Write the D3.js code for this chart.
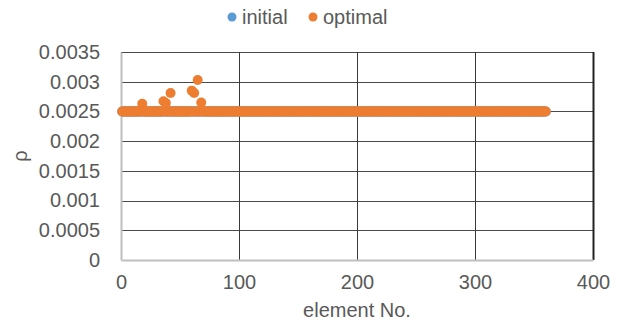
<!DOCTYPE html>
<html>
<head>
<meta charset="utf-8">
<script src="https://cdn.jsdelivr.net/npm/d3@7"></script>
<style>
  body { margin: 0; background: #fff; }
  text { font-family: "Liberation Sans", Arial, sans-serif; fill: #595959; }
</style>
</head>
<body>
<div id="viz"></div>
<script>
// element numbers 1..360 along the x axis
const elements = d3.range(1, 361);

// initial density of every element
const initial = [
  0.0025, 0.0025, 0.0025, 0.0025, 0.0025, 0.0025, 0.0025, 0.0025, 0.0025, 0.0025, 0.0025, 0.0025, 0.0025, 0.0025, 0.0025, 0.0025, 0.0025, 0.0025, 0.0025, 0.0025,
  0.0025, 0.0025, 0.0025, 0.0025, 0.0025, 0.0025, 0.0025, 0.0025, 0.0025, 0.0025, 0.0025, 0.0025, 0.0025, 0.0025, 0.0025, 0.0025, 0.0025, 0.0025, 0.0025, 0.0025,
  0.0025, 0.0025, 0.0025, 0.0025, 0.0025, 0.0025, 0.0025, 0.0025, 0.0025, 0.0025, 0.0025, 0.0025, 0.0025, 0.0025, 0.0025, 0.0025, 0.0025, 0.0025, 0.0025, 0.0025,
  0.0025, 0.0025, 0.0025, 0.0025, 0.0025, 0.0025, 0.0025, 0.0025, 0.0025, 0.0025, 0.0025, 0.0025, 0.0025, 0.0025, 0.0025, 0.0025, 0.0025, 0.0025, 0.0025, 0.0025,
  0.0025, 0.0025, 0.0025, 0.0025, 0.0025, 0.0025, 0.0025, 0.0025, 0.0025, 0.0025, 0.0025, 0.0025, 0.0025, 0.0025, 0.0025, 0.0025, 0.0025, 0.0025, 0.0025, 0.0025,
  0.0025, 0.0025, 0.0025, 0.0025, 0.0025, 0.0025, 0.0025, 0.0025, 0.0025, 0.0025, 0.0025, 0.0025, 0.0025, 0.0025, 0.0025, 0.0025, 0.0025, 0.0025, 0.0025, 0.0025,
  0.0025, 0.0025, 0.0025, 0.0025, 0.0025, 0.0025, 0.0025, 0.0025, 0.0025, 0.0025, 0.0025, 0.0025, 0.0025, 0.0025, 0.0025, 0.0025, 0.0025, 0.0025, 0.0025, 0.0025,
  0.0025, 0.0025, 0.0025, 0.0025, 0.0025, 0.0025, 0.0025, 0.0025, 0.0025, 0.0025, 0.0025, 0.0025, 0.0025, 0.0025, 0.0025, 0.0025, 0.0025, 0.0025, 0.0025, 0.0025,
  0.0025, 0.0025, 0.0025, 0.0025, 0.0025, 0.0025, 0.0025, 0.0025, 0.0025, 0.0025, 0.0025, 0.0025, 0.0025, 0.0025, 0.0025, 0.0025, 0.0025, 0.0025, 0.0025, 0.0025,
  0.0025, 0.0025, 0.0025, 0.0025, 0.0025, 0.0025, 0.0025, 0.0025, 0.0025, 0.0025, 0.0025, 0.0025, 0.0025, 0.0025, 0.0025, 0.0025, 0.0025, 0.0025, 0.0025, 0.0025,
  0.0025, 0.0025, 0.0025, 0.0025, 0.0025, 0.0025, 0.0025, 0.0025, 0.0025, 0.0025, 0.0025, 0.0025, 0.0025, 0.0025, 0.0025, 0.0025, 0.0025, 0.0025, 0.0025, 0.0025,
  0.0025, 0.0025, 0.0025, 0.0025, 0.0025, 0.0025, 0.0025, 0.0025, 0.0025, 0.0025, 0.0025, 0.0025, 0.0025, 0.0025, 0.0025, 0.0025, 0.0025, 0.0025, 0.0025, 0.0025,
  0.0025, 0.0025, 0.0025, 0.0025, 0.0025, 0.0025, 0.0025, 0.0025, 0.0025, 0.0025, 0.0025, 0.0025, 0.0025, 0.0025, 0.0025, 0.0025, 0.0025, 0.0025, 0.0025, 0.0025,
  0.0025, 0.0025, 0.0025, 0.0025, 0.0025, 0.0025, 0.0025, 0.0025, 0.0025, 0.0025, 0.0025, 0.0025, 0.0025, 0.0025, 0.0025, 0.0025, 0.0025, 0.0025, 0.0025, 0.0025,
  0.0025, 0.0025, 0.0025, 0.0025, 0.0025, 0.0025, 0.0025, 0.0025, 0.0025, 0.0025, 0.0025, 0.0025, 0.0025, 0.0025, 0.0025, 0.0025, 0.0025, 0.0025, 0.0025, 0.0025,
  0.0025, 0.0025, 0.0025, 0.0025, 0.0025, 0.0025, 0.0025, 0.0025, 0.0025, 0.0025, 0.0025, 0.0025, 0.0025, 0.0025, 0.0025, 0.0025, 0.0025, 0.0025, 0.0025, 0.0025,
  0.0025, 0.0025, 0.0025, 0.0025, 0.0025, 0.0025, 0.0025, 0.0025, 0.0025, 0.0025, 0.0025, 0.0025, 0.0025, 0.0025, 0.0025, 0.0025, 0.0025, 0.0025, 0.0025, 0.0025,
  0.0025, 0.0025, 0.0025, 0.0025, 0.0025, 0.0025, 0.0025, 0.0025, 0.0025, 0.0025, 0.0025, 0.0025, 0.0025, 0.0025, 0.0025, 0.0025, 0.0025, 0.0025, 0.0025, 0.0025
];

// optimal density, a few elements near the start go up
const optimal = [
  0.0025, 0.0025, 0.0025, 0.0025, 0.0025, 0.0025, 0.0025, 0.0025, 0.0025, 0.0025, 0.0025, 0.0025, 0.0025, 0.0025, 0.0025, 0.0025, 0.0025, 0.00263, 0.0025, 0.0025,
  0.0025, 0.0025, 0.0025, 0.0025, 0.0025, 0.0025, 0.0025, 0.0025, 0.0025, 0.0025, 0.0025, 0.0025, 0.0025, 0.0025, 0.0025, 0.00267, 0.0025, 0.00264, 0.0025, 0.0025,
  0.0025, 0.00281, 0.0025, 0.0025, 0.0025, 0.0025, 0.0025, 0.0025, 0.0025, 0.0025, 0.0025, 0.0025, 0.0025, 0.0025, 0.0025, 0.0025, 0.0025, 0.0025, 0.0025, 0.00285,
  0.0025, 0.00281, 0.0025, 0.0025, 0.00303, 0.0025, 0.0025, 0.00265, 0.0025, 0.0025, 0.0025, 0.0025, 0.0025, 0.0025, 0.0025, 0.0025, 0.0025, 0.0025, 0.0025, 0.0025,
  0.0025, 0.0025, 0.0025, 0.0025, 0.0025, 0.0025, 0.0025, 0.0025, 0.0025, 0.0025, 0.0025, 0.0025, 0.0025, 0.0025, 0.0025, 0.0025, 0.0025, 0.0025, 0.0025, 0.0025,
  0.0025, 0.0025, 0.0025, 0.0025, 0.0025, 0.0025, 0.0025, 0.0025, 0.0025, 0.0025, 0.0025, 0.0025, 0.0025, 0.0025, 0.0025, 0.0025, 0.0025, 0.0025, 0.0025, 0.0025,
  0.0025, 0.0025, 0.0025, 0.0025, 0.0025, 0.0025, 0.0025, 0.0025, 0.0025, 0.0025, 0.0025, 0.0025, 0.0025, 0.0025, 0.0025, 0.0025, 0.0025, 0.0025, 0.0025, 0.0025,
  0.0025, 0.0025, 0.0025, 0.0025, 0.0025, 0.0025, 0.0025, 0.0025, 0.0025, 0.0025, 0.0025, 0.0025, 0.0025, 0.0025, 0.0025, 0.0025, 0.0025, 0.0025, 0.0025, 0.0025,
  0.0025, 0.0025, 0.0025, 0.0025, 0.0025, 0.0025, 0.0025, 0.0025, 0.0025, 0.0025, 0.0025, 0.0025, 0.0025, 0.0025, 0.0025, 0.0025, 0.0025, 0.0025, 0.0025, 0.0025,
  0.0025, 0.0025, 0.0025, 0.0025, 0.0025, 0.0025, 0.0025, 0.0025, 0.0025, 0.0025, 0.0025, 0.0025, 0.0025, 0.0025, 0.0025, 0.0025, 0.0025, 0.0025, 0.0025, 0.0025,
  0.0025, 0.0025, 0.0025, 0.0025, 0.0025, 0.0025, 0.0025, 0.0025, 0.0025, 0.0025, 0.0025, 0.0025, 0.0025, 0.0025, 0.0025, 0.0025, 0.0025, 0.0025, 0.0025, 0.0025,
  0.0025, 0.0025, 0.0025, 0.0025, 0.0025, 0.0025, 0.0025, 0.0025, 0.0025, 0.0025, 0.0025, 0.0025, 0.0025, 0.0025, 0.0025, 0.0025, 0.0025, 0.0025, 0.0025, 0.0025,
  0.0025, 0.0025, 0.0025, 0.0025, 0.0025, 0.0025, 0.0025, 0.0025, 0.0025, 0.0025, 0.0025, 0.0025, 0.0025, 0.0025, 0.0025, 0.0025, 0.0025, 0.0025, 0.0025, 0.0025,
  0.0025, 0.0025, 0.0025, 0.0025, 0.0025, 0.0025, 0.0025, 0.0025, 0.0025, 0.0025, 0.0025, 0.0025, 0.0025, 0.0025, 0.0025, 0.0025, 0.0025, 0.0025, 0.0025, 0.0025,
  0.0025, 0.0025, 0.0025, 0.0025, 0.0025, 0.0025, 0.0025, 0.0025, 0.0025, 0.0025, 0.0025, 0.0025, 0.0025, 0.0025, 0.0025, 0.0025, 0.0025, 0.0025, 0.0025, 0.0025,
  0.0025, 0.0025, 0.0025, 0.0025, 0.0025, 0.0025, 0.0025, 0.0025, 0.0025, 0.0025, 0.0025, 0.0025, 0.0025, 0.0025, 0.0025, 0.0025, 0.0025, 0.0025, 0.0025, 0.0025,
  0.0025, 0.0025, 0.0025, 0.0025, 0.0025, 0.0025, 0.0025, 0.0025, 0.0025, 0.0025, 0.0025, 0.0025, 0.0025, 0.0025, 0.0025, 0.0025, 0.0025, 0.0025, 0.0025, 0.0025,
  0.0025, 0.0025, 0.0025, 0.0025, 0.0025, 0.0025, 0.0025, 0.0025, 0.0025, 0.0025, 0.0025, 0.0025, 0.0025, 0.0025, 0.0025, 0.0025, 0.0025, 0.0025, 0.0025, 0.0025
];

const xTicks = [0, 100, 200, 300, 400];
const yTicks = [0, 0.0005, 0.001, 0.0015, 0.002, 0.0025, 0.003, 0.0035];
const seriesNames = ["initial", "optimal"];
const seriesColors = ["#5B9BD5", "#ED7D31"];

const width = 624, height = 323;
const margin = { top: 52, right: 31, bottom: 63, left: 121 };
const fontSize = "20px";

const svg = d3.select("#viz")
    .append("svg")
    .attr("width", width)
    .attr("height", height);

const x = d3.scaleLinear()
    .domain([0, 400])
    .range([margin.left, width - margin.right]);

const y = d3.scaleLinear()
    .domain([0, 0.0035])
    .range([height - margin.bottom, margin.top]);

// gridlines
svg.append("g")
    .selectAll("line")
    .data(yTicks.filter(d => d > 0))
    .join("line")
    .attr("x1", margin.left)
    .attr("x2", width - margin.right)
    .attr("y1", d => Math.round(y(d)) + 0.5)
    .attr("y2", d => Math.round(y(d)) + 0.5)
    .attr("stroke", "#4a4a4a")
    .attr("stroke-width", 1);

svg.append("g")
    .selectAll("line")
    .data(xTicks.filter(d => d > 0))
    .join("line")
    .attr("x1", d => Math.round(x(d)) + 0.5)
    .attr("x2", d => Math.round(x(d)) + 0.5)
    .attr("y1", margin.top)
    .attr("y2", height - margin.bottom)
    .attr("stroke", d => d === 400 ? "#222" : "#3a3a3a")
    .attr("stroke-width", d => d === 400 ? 2 : 1);

// axes
const xAxis = d3.axisBottom(x).tickValues(xTicks).tickSize(0).tickPadding(15);
const yAxis = d3.axisLeft(y).tickValues(yTicks).tickSize(0).tickPadding(21)
    .tickFormat(d => d === 0 ? "0" : String(+d.toFixed(4)));

const gx = svg.append("g")
    .attr("transform", `translate(0,${height - margin.bottom})`)
    .call(xAxis);
const gy = svg.append("g")
    .attr("transform", `translate(${margin.left},0)`)
    .call(yAxis);

[gx, gy].forEach(g => {
    g.select(".domain").attr("stroke", "#bfbfbf").attr("stroke-width", 2);
    g.selectAll("text")
        .attr("fill", "#595959")
        .style("font-size", fontSize)
        .style("font-family", "'Liberation Sans', Arial, sans-serif");
});

// axis titles
svg.append("text")
    .attr("x", (margin.left + width - margin.right) / 2)
    .attr("y", 317)
    .attr("text-anchor", "middle")
    .style("font-size", fontSize)
    .text("element No.");

svg.append("text")
    .attr("transform", `translate(27,${(margin.top + height - margin.bottom) / 2}) rotate(-90)`)
    .attr("text-anchor", "middle")
    .style("font-size", fontSize)
    .text("ρ");

// scatter points
[initial, optimal].forEach((values, i) => {
    svg.append("g")
        .selectAll("circle")
        .data(values)
        .join("circle")
        .attr("cx", (d, j) => x(elements[j]))
        .attr("cy", d => y(d))
        .attr("r", 5)
        .attr("fill", seriesColors[i]);
});

// legend
const legendX = [232, 313];
const legend = svg.append("g");
seriesNames.forEach((name, i) => {
    legend.append("circle")
        .attr("cx", legendX[i])
        .attr("cy", 17)
        .attr("r", 4.5)
        .attr("fill", seriesColors[i]);
    legend.append("text")
        .attr("x", legendX[i] + 10)
        .attr("y", 24)
        .style("font-size", fontSize)
        .text(name);
});
</script>
</body>
</html>
